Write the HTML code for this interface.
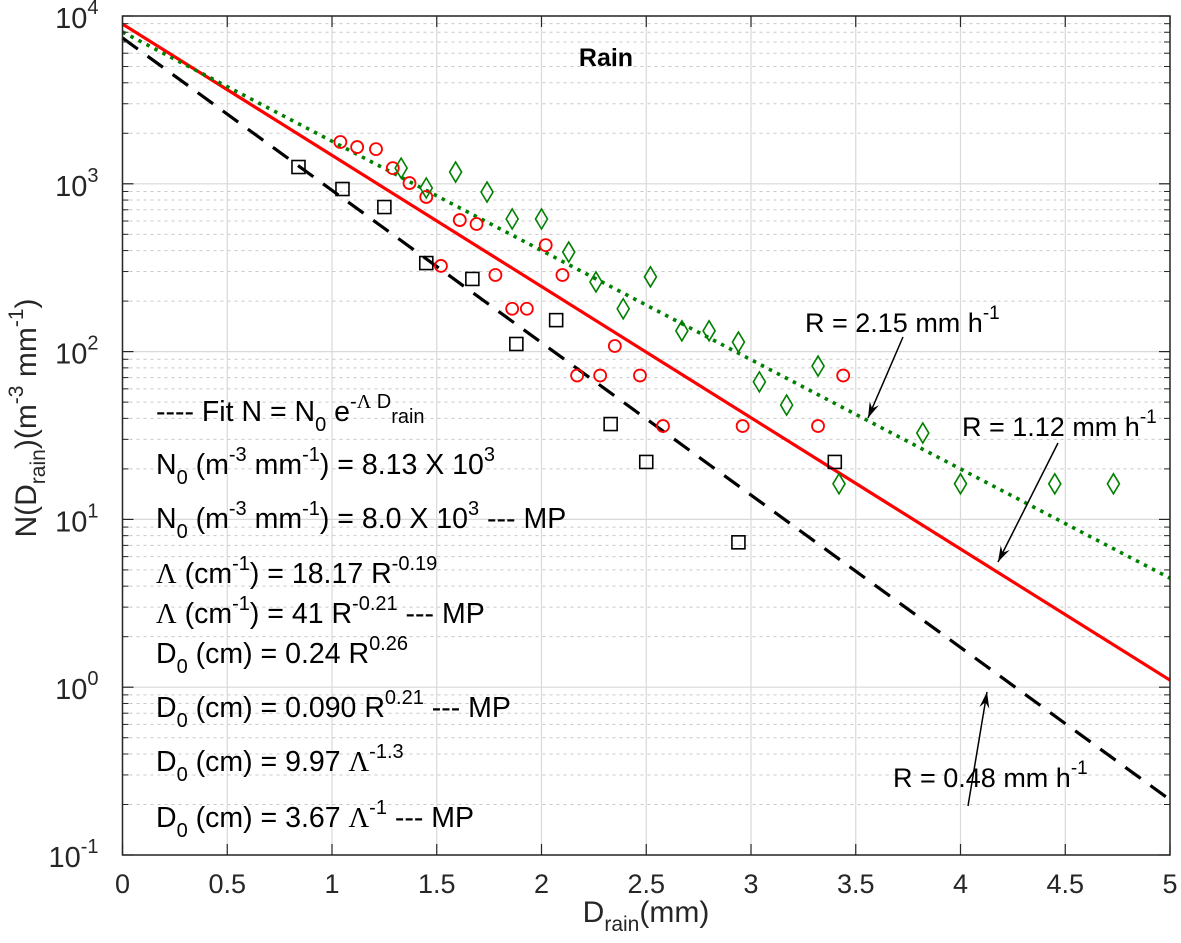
<!DOCTYPE html>
<html><head><meta charset="utf-8">
<style>
html,body{margin:0;padding:0;background:#fff;}
svg{display:block;font-family:"Liberation Sans",Arial,sans-serif;}
.lam{font-family:"Liberation Serif","DejaVu Serif",serif;}
</style></head>
<body>
<svg id="chart" width="1181" height="943" viewBox="0 0 1181 943" xmlns="http://www.w3.org/2000/svg">
<g id="grid"></g>
<g id="series"></g>
<g id="axes"></g>
<g id="annot"></g>
</svg>
<script>
// ---- data ----
const xTicks = [0, 0.5, 1, 1.5, 2, 2.5, 3, 3.5, 4, 4.5, 5];
const xTickLabels = ["0","0.5","1","1.5","2","2.5","3","3.5","4","4.5","5"];
const yDecades = [-1, 0, 1, 2, 3, 4];
// fitted lines: intercept N0 and log10 slope per mm
const fitN0 = [8950, 8030, 7400];          // red, green, black
const fitLogSlope = [0.782, 0.651, 0.908];
const redD = [1.04,1.12,1.21,1.29,1.37,1.45,1.52,1.61,1.69,1.78,1.86,1.93,2.02,2.10,2.17,2.28,2.35,2.47,2.58,2.96,3.32,3.44];
const redN = [1775,1655,1610,1240,1010,835,324,608,576,286,180,180,431,286,72,72,108,72,36,36,36,72];
const greenD = [1.33,1.45,1.59,1.74,1.86,2.00,2.13,2.26,2.39,2.52,2.67,2.80,2.94,3.04,3.17,3.32,3.42,3.82,4.00,4.45,4.73];
const greenN = [1240,944,1175,893,617,617,392,260,180,279,133,133,114,66,48,82,16.3,32.7,16.3,16.3,16.3];
const blackD = [0.84,1.05,1.25,1.45,1.67,1.88,2.07,2.33,2.50,2.94,3.40];
const blackN = [1259,931,727,337,271,111,154,37,22,7.3,22];

// ---- axes ----
const L=122.5, R=1170, T=16, B=855;
const X = d => L + (d-0)/(5-0)*(R-L);
const Y = n => B - (Math.log10(n) - (-1))/5*(B-T);
const NS="http://www.w3.org/2000/svg";
function mk(tag, attrs, parent){const e=document.createElementNS(NS,tag);for(const k in attrs)e.setAttribute(k,attrs[k]);parent.appendChild(e);return e;}
const grid=document.getElementById('grid'), ser=document.getElementById('series'), axes=document.getElementById('axes'), annot=document.getElementById('annot');

for (const dec of yDecades.slice(0,-1)) {
  for (let m=2;m<=9;m++){
    const y=Y(m*Math.pow(10,dec));
    const l=mk('line',{x1:L,x2:R,y1:y,y2:y,stroke:'#c8c8c8','stroke-width':1,'stroke-dasharray':'3,4'},grid);
    
    
    mk('line',{x1:L,x2:L+6,y1:y,y2:y,stroke:'#262626','stroke-width':1},axes);
    mk('line',{x1:R,x2:R-6,y1:y,y2:y,stroke:'#262626','stroke-width':1},axes);
  }
}
for (const dec of yDecades){
  const y=Y(Math.pow(10,dec));
  const l=mk('line',{x1:L,x2:R,y1:y,y2:y,stroke:'#d9d9d9','stroke-width':1.2},grid);
  
  
  mk('line',{x1:L,x2:L+11,y1:y,y2:y,stroke:'#262626','stroke-width':1.2},axes);
  mk('line',{x1:R,x2:R-11,y1:y,y2:y,stroke:'#262626','stroke-width':1.2},axes);
  const t=mk('text',{x:L-24,y:y+12,'text-anchor':'end','font-size':29,fill:'#262626'},axes);
  
  
  t.appendChild(document.createTextNode('10'));
  const s=mk('tspan',{dy:-14,'font-size':20},t); s.textContent=String(dec);
}
xTicks.forEach((d,i)=>{
  const x=X(d);
  const l=mk('line',{x1:x,x2:x,y1:T,y2:B,stroke:'#d9d9d9','stroke-width':1.2},grid);
  
  
  mk('line',{x1:x,x2:x,y1:B,y2:B-11,stroke:'#262626','stroke-width':1.2},axes);
  mk('line',{x1:x,x2:x,y1:T,y2:T+11,stroke:'#262626','stroke-width':1.2},axes);
  const t=mk('text',{x:x,y:B+38,'text-anchor':'middle','font-size':27,fill:'#262626'},axes);
  
  
  t.textContent=xTickLabels[i];
});
const box=mk('rect',{x:L,y:T,width:R-L,height:B-T,fill:'none',stroke:'#262626','stroke-width':1.5},axes);



const lineStyles=[
  {stroke:'#ff0000','stroke-width':3.2},
  {stroke:'#008000','stroke-width':3.6,'stroke-dasharray':'3.5,5.5'},
  {stroke:'#000000','stroke-width':3.2,'stroke-dasharray':'19,12'}];
const lineNames=['fit-line-r112','fit-line-r215','fit-line-r048'];
fitN0.forEach((n0,i)=>{
  const n5=n0*Math.pow(10,-fitLogSlope[i]*5);
  const l=mk('line',Object.assign({x1:X(0),y1:Y(n0),x2:X(5),y2:Y(n5)},lineStyles[i]),ser);
  
  
});
redD.forEach((d,i)=>{
  const c=mk('circle',{cx:X(d),cy:Y(redN[i]),r:6,fill:'none',stroke:'#ff0000','stroke-width':1.8},ser);
  
  
});
greenD.forEach((d,i)=>{
  const x=X(d),y=Y(greenN[i]);
  const p=mk('polygon',{points:`${x},${y-10} ${x+6},${y} ${x},${y+10} ${x-6},${y}`,fill:'none',stroke:'#008000','stroke-width':1.6},ser);
  
  
});
blackD.forEach((d,i)=>{
  const x=X(d),y=Y(blackN[i]);
  const r=mk('rect',{x:x-6.5,y:y-6.5,width:13,height:13,fill:'none',stroke:'#000','stroke-width':1.6},ser);
  
  
});

function arrow(x1,y1,x2,y2,name){
  const g=mk('g',{},annot);
  
  
  mk('line',{x1,y1,x2,y2,stroke:'#000','stroke-width':1.5},g);
  const a=Math.atan2(y2-y1,x2-x1), len=16, w=5;
  const bx=x2-len*Math.cos(a), by=y2-len*Math.sin(a);
  const px=-Math.sin(a)*w, py=Math.cos(a)*w;
  mk('polygon',{points:`${x2},${y2} ${bx+px},${by+py} ${bx+0.35*len*Math.cos(a)},${by+0.35*len*Math.sin(a)} ${bx-px},${by-py}`,fill:'#000'},g);
}
arrow(903,337,868,418,'arrow-r215');
arrow(1058,443,998,562,'arrow-r112');
arrow(968,806,987,692,'arrow-r048');
</script>
<svg style="position:absolute;left:0;top:0" width="1181" height="943">
<g font-family="Liberation Sans, Arial, sans-serif" fill="#000">
<text x="606" y="66" font-size="25" font-weight="bold" text-anchor="middle">Rain</text>
<text x="805" y="332" font-size="27">R = 2.15 mm h<tspan dy="-13" font-size="19">-1</tspan></text>
<text x="962" y="436" font-size="27">R = 1.12 mm h<tspan dy="-13" font-size="19">-1</tspan></text>
<text x="893" y="787" font-size="27">R = 0.48 mm h<tspan dy="-13" font-size="19">-1</tspan></text>
<g font-size="28.5">
<text x="156" y="421">---- Fit N = N<tspan dy="10" font-size="20">0</tspan><tspan dy="-10"> e</tspan><tspan dy="-13" font-size="20">-</tspan><tspan class="lam" font-size="20">Λ</tspan><tspan font-size="20"> D</tspan><tspan dy="15" font-size="20">rain</tspan></text>
<text x="156" y="474">N<tspan dy="10" font-size="20">0</tspan><tspan dy="-10"> (m</tspan><tspan dy="-13" font-size="20">-3</tspan><tspan dy="13"> mm</tspan><tspan dy="-13" font-size="20">-1</tspan><tspan dy="13">) = 8.13 X 10</tspan><tspan dy="-13" font-size="20">3</tspan></text>
<text x="156" y="528">N<tspan dy="10" font-size="20">0</tspan><tspan dy="-10"> (m</tspan><tspan dy="-13" font-size="20">-3</tspan><tspan dy="13"> mm</tspan><tspan dy="-13" font-size="20">-1</tspan><tspan dy="13">) = 8.0 X 10</tspan><tspan dy="-13" font-size="20">3</tspan><tspan dy="13"> --- MP</tspan></text>
<text x="156" y="583"><tspan class="lam">Λ</tspan> (cm<tspan dy="-13" font-size="20">-1</tspan><tspan dy="13">) = 18.17 R</tspan><tspan dy="-13" font-size="20">-0.19</tspan></text>
<text x="156" y="623"><tspan class="lam">Λ</tspan> (cm<tspan dy="-13" font-size="20">-1</tspan><tspan dy="13">) = 41 R</tspan><tspan dy="-13" font-size="20">-0.21</tspan><tspan dy="13"> --- MP</tspan></text>
<text x="156" y="663">D<tspan dy="10" font-size="20">0</tspan><tspan dy="-10"> (cm) = 0.24 R</tspan><tspan dy="-13" font-size="20">0.26</tspan></text>
<text x="156" y="717">D<tspan dy="10" font-size="20">0</tspan><tspan dy="-10"> (cm) = 0.090 R</tspan><tspan dy="-13" font-size="20">0.21</tspan><tspan dy="13"> --- MP</tspan></text>
<text x="156" y="771">D<tspan dy="10" font-size="20">0</tspan><tspan dy="-10"> (cm) = 9.97 </tspan><tspan class="lam">Λ</tspan><tspan dy="-13" font-size="20">-1.3</tspan></text>
<text x="156" y="827">D<tspan dy="10" font-size="20">0</tspan><tspan dy="-10"> (cm) = 3.67 </tspan><tspan class="lam">Λ</tspan><tspan dy="-13" font-size="20">-1</tspan><tspan dy="13"> --- MP</tspan></text>
</g>
<text x="646" y="922" font-size="30" text-anchor="middle" fill="#262626">D<tspan dy="9" font-size="21">rain</tspan><tspan dy="-9">(mm)</tspan></text>
<text transform="translate(36,418) rotate(-90)" font-size="30" text-anchor="middle" fill="#262626">N(D<tspan dy="9" font-size="21">rain</tspan><tspan dy="-9">)(m</tspan><tspan dy="-13" font-size="21">-3</tspan><tspan dy="13"> mm</tspan><tspan dy="-13" font-size="21">-1</tspan><tspan dy="13">)</tspan></text>
</g>
</svg>
</body></html>
